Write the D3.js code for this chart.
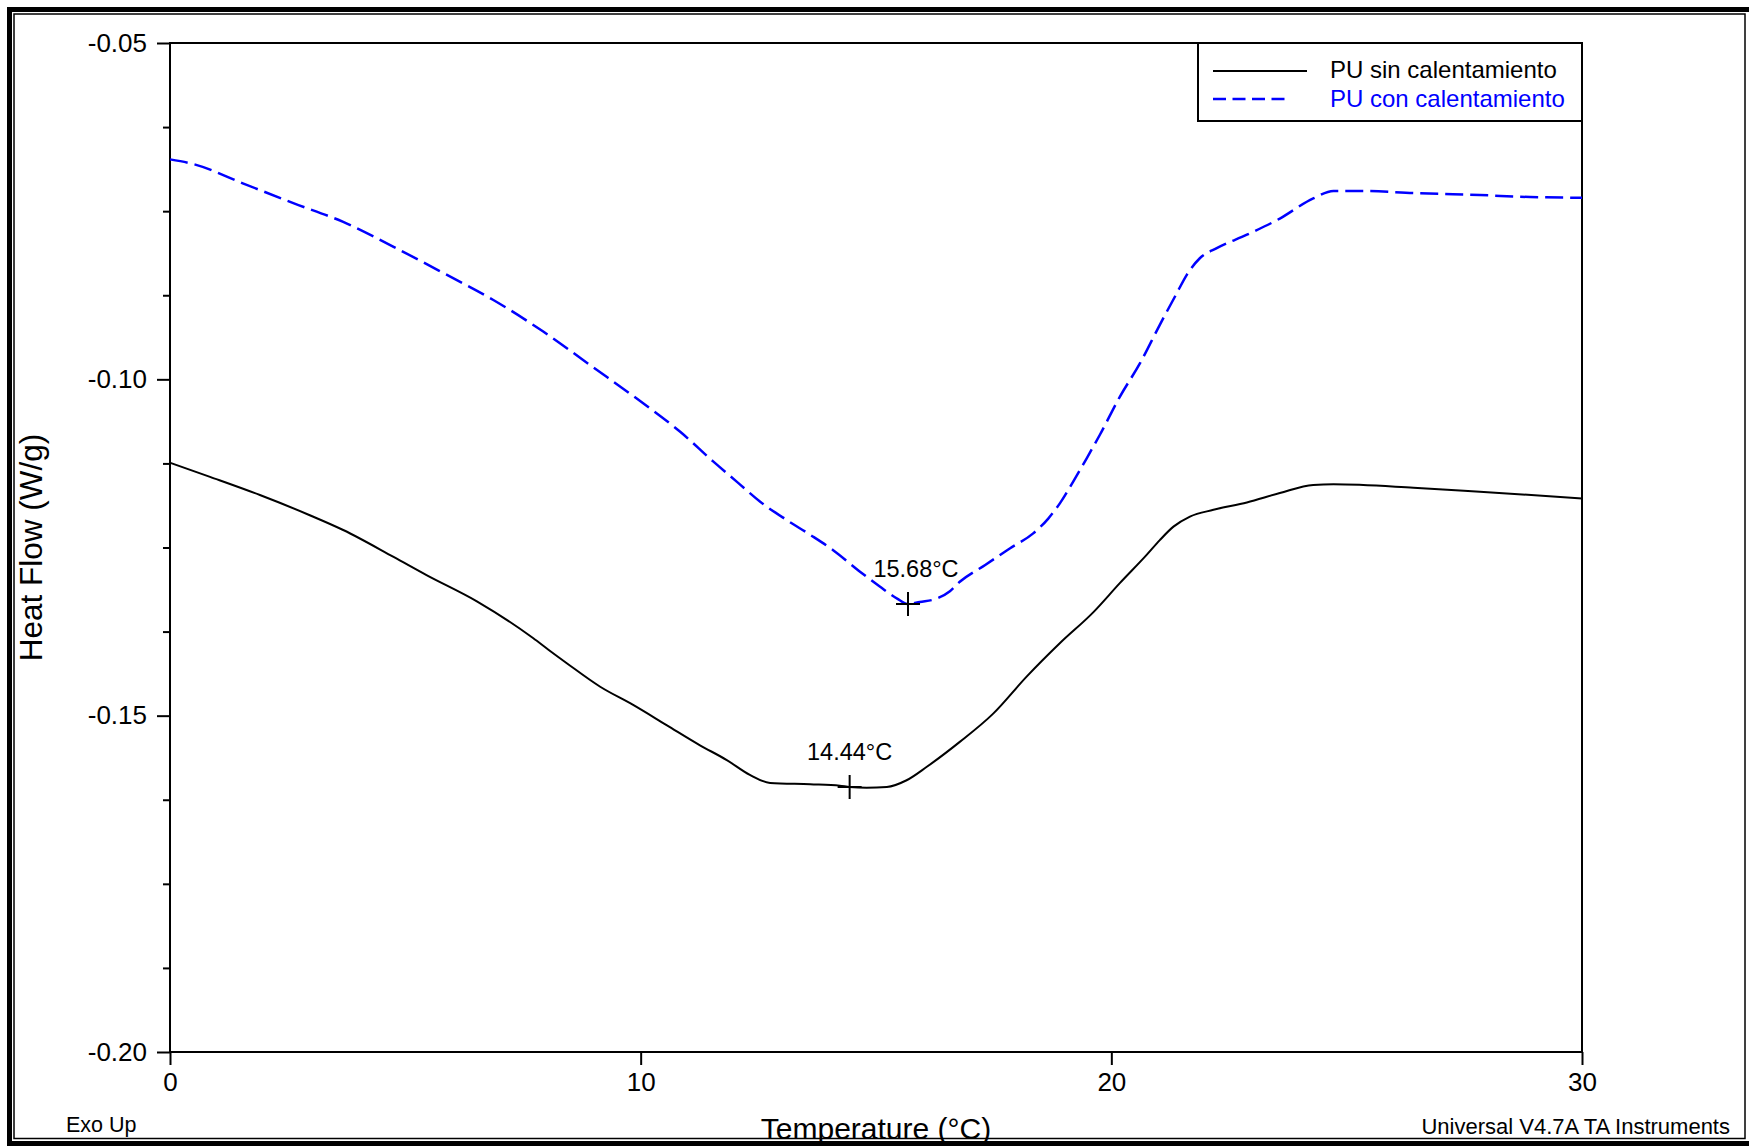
<!DOCTYPE html>
<html>
<head>
<meta charset="utf-8">
<script src="https://cdn.jsdelivr.net/npm/d3@7"></script>
<style>
  html, body { margin: 0; padding: 0; background: #fff; }
  svg { display: block; }
  text { font-family: "Liberation Sans", Arial, sans-serif; }
</style>
</head>
<body>
<svg id="chart" width="1749" height="1147"></svg>
<script>
// DSC thermograms: heat flow (W/g) vs temperature (°C)
const tempSin = [0, 0.85, 1.91, 2.97, 3.68, 4.75, 5.45, 6.52, 7.72, 8.04, 8.43, 9.14, 9.84, 10.55, 11.26, 11.83, 12.32, 12.75, 13.6, 14.23, 14.44, 14.8, 15.23, 15.65, 16.08, 16.78, 17.49, 18.2, 18.91, 19.62, 20.18, 20.75, 21.03, 21.32, 21.67, 22.17, 22.88, 23.58, 24.29, 24.72, 26.42, 27.83, 30];
const hfSin = [-0.1124, -0.1145, -0.1172, -0.1202, -0.1224, -0.1264, -0.1291, -0.1330, -0.1385, -0.1402, -0.1422, -0.1457, -0.1484, -0.1514, -0.1544, -0.1566, -0.1588, -0.1600, -0.1602, -0.1604, -0.1606, -0.1607, -0.1606, -0.1596, -0.1576, -0.1539, -0.1497, -0.1442, -0.1392, -0.1346, -0.1303, -0.1261, -0.1239, -0.1219, -0.1204, -0.1194, -0.1183, -0.1169, -0.1157, -0.1156, -0.1161, -0.1167, -0.1177];

const tempCon = [0, 0.50, 1.56, 2.62, 3.68, 4.75, 5.81, 6.87, 7.93, 8.99, 10.06, 10.84, 11.54, 12.04, 12.54, 13.1, 13.6, 14.09, 14.66, 15.08, 15.45, 15.68, 15.93, 16.29, 16.57, 16.78, 17.32, 17.85, 18.34, 18.66, 18.91, 19.19, 19.48, 19.76, 20.18, 20.61, 21.03, 21.39, 21.6, 21.88, 22.24, 22.88, 23.58, 24.29, 24.72, 25.35, 26.42, 27.83, 28.9, 30];
const hfCon = [-0.0673, -0.0680, -0.0709, -0.0738, -0.0766, -0.0803, -0.0842, -0.0882, -0.0929, -0.0982, -0.1036, -0.1078, -0.1122, -0.1152, -0.1182, -0.1209, -0.1231, -0.1254, -0.1286, -0.1308, -0.1326, -0.1334, -0.1331, -0.1326, -0.1315, -0.1301, -0.1276, -0.1251, -0.1229, -0.1207, -0.1184, -0.1152, -0.1117, -0.1082, -0.1026, -0.0976, -0.0919, -0.0872, -0.0845, -0.0820, -0.0805, -0.0785, -0.0761, -0.0731, -0.0720, -0.0720, -0.0723, -0.0726, -0.0729, -0.0730];

// peak temperatures marked on each curve
const peakTemps = [14.44, 15.68];
const peakLabels = ["14.44°C", "15.68°C"];

const seriesNames = ["PU sin calentamiento", "PU con calentamiento"];
const seriesColors = ["#000000", "#0000ff"];

const xTicks = [0, 10, 20, 30];
const yMajorTicks = [-0.05, -0.10, -0.15, -0.20];
const yMinorTicks = [-0.0625, -0.075, -0.0875, -0.1125, -0.125, -0.1375, -0.1625, -0.175, -0.1875];

const xTitle = "Temperature (°C)";
const yTitle = "Heat Flow (W/g)";
const cornerLeft = "Exo Up";
const cornerRight = "Universal V4.7A TA Instruments";

const svg = d3.select("#chart");
const W = 1749, H = 1147;
const plot = { left: 170, right: 1582, top: 43, bottom: 1052 };

const x = d3.scaleLinear().domain([0, 30]).range([plot.left, plot.right]);
const y = d3.scaleLinear().domain([-0.20, -0.05]).range([plot.bottom, plot.top]);

svg.append("rect").attr("width", W).attr("height", H).attr("fill", "#fff");

// page frame: heavy outer border plus thin inner rule
svg.append("rect").attr("x", 9.5).attr("y", 9.5).attr("width", 1742).attr("height", 1134)
  .attr("fill", "none").attr("stroke", "#000").attr("stroke-width", 5);
svg.append("rect").attr("x", 14).attr("y", 14).attr("width", 1731).attr("height", 1124.5)
  .attr("fill", "none").attr("stroke", "#000").attr("stroke-width", 1.5);

// axes
const yMinor = svg.append("g").attr("transform", `translate(${plot.left},0)`)
  .call(d3.axisLeft(y).tickValues(yMinorTicks).tickSize(7).tickSizeOuter(0).tickFormat(""));
const yMajor = svg.append("g").attr("transform", `translate(${plot.left},0)`)
  .call(d3.axisLeft(y).tickValues(yMajorTicks).tickSize(13).tickSizeOuter(0).tickPadding(10)
    .tickFormat(d => d.toFixed(2)));
const xAxis = svg.append("g").attr("transform", `translate(0,${plot.bottom})`)
  .call(d3.axisBottom(x).tickValues(xTicks).tickSize(13).tickSizeOuter(0).tickPadding(7.5)
    .tickFormat(d3.format("d")));

[yMinor, yMajor, xAxis].forEach(g => {
  g.select(".domain").remove();
  g.selectAll(".tick line").attr("stroke", "#000").attr("stroke-width", 2);
  g.selectAll("text").attr("fill", "#000").style("font-size", "26px")
    .style("font-family", "'Liberation Sans', Arial, sans-serif");
});

// plot frame
svg.append("rect")
  .attr("x", plot.left).attr("y", plot.top)
  .attr("width", plot.right - plot.left).attr("height", plot.bottom - plot.top)
  .attr("fill", "none").attr("stroke", "#000").attr("stroke-width", 2);

// curves
const line = d3.line().x(d => x(d[0])).y(d => y(d[1])).curve(d3.curveMonotoneX);
const sinData = d3.zip(tempSin, hfSin);
const conData = d3.zip(tempCon, hfCon);

svg.append("path").datum(sinData).attr("d", line)
  .attr("fill", "none").attr("stroke", seriesColors[0]).attr("stroke-width", 2);
svg.append("path").datum(conData).attr("d", line)
  .attr("fill", "none").attr("stroke", seriesColors[1]).attr("stroke-width", 2.5)
  .attr("stroke-dasharray", "18,7");

// peak markers, positioned on their curves
function valueAt(ts, vs, t) {
  const i = d3.bisectLeft(ts, t);
  if (ts[i] === t) return vs[i];
  const t0 = ts[i - 1], t1 = ts[i];
  return vs[i - 1] + (vs[i] - vs[i - 1]) * (t - t0) / (t1 - t0);
}
const peaks = [
  { t: peakTemps[0], v: valueAt(tempSin, hfSin, peakTemps[0]), label: peakLabels[0], dx: 0 },
  { t: peakTemps[1], v: valueAt(tempCon, hfCon, peakTemps[1]), label: peakLabels[1], dx: 8 }
];
const pk = svg.append("g").selectAll("g").data(peaks).join("g")
  .attr("transform", d => `translate(${x(d.t)},${y(d.v)})`);
pk.append("path").attr("d", "M-12,0H12M0,-12V12")
  .attr("stroke", "#000").attr("stroke-width", 2).attr("fill", "none");
pk.append("text").attr("x", d => d.dx).attr("y", -27)
  .attr("text-anchor", "middle").style("font-size", "23.5px").attr("fill", "#000")
  .text(d => d.label);

// legend
const lg = svg.append("g");
lg.append("rect").attr("x", 1198).attr("y", plot.top).attr("width", plot.right - 1198).attr("height", 78)
  .attr("fill", "#fff").attr("stroke", "#000").attr("stroke-width", 2);
lg.append("line").attr("x1", 1213).attr("x2", 1307).attr("y1", 71).attr("y2", 71)
  .attr("stroke", seriesColors[0]).attr("stroke-width", 2);
lg.append("line").attr("x1", 1213).attr("x2", 1287).attr("y1", 99).attr("y2", 99)
  .attr("stroke", seriesColors[1]).attr("stroke-width", 2.5).attr("stroke-dasharray", "13,6.5");
lg.append("text").attr("x", 1330).attr("y", 78).attr("fill", seriesColors[0])
  .style("font-size", "24px").text(seriesNames[0]);
lg.append("text").attr("x", 1330).attr("y", 107).attr("fill", seriesColors[1])
  .style("font-size", "24px").text(seriesNames[1]);

// axis titles
svg.append("text").attr("x", (plot.left + plot.right) / 2).attr("y", 1139)
  .attr("text-anchor", "middle").style("font-size", "30px").attr("fill", "#000").text(xTitle);
svg.append("text").attr("transform", `translate(42,${(plot.top + plot.bottom) / 2}) rotate(-90)`)
  .attr("text-anchor", "middle").style("font-size", "31.5px").attr("fill", "#000").text(yTitle);

// footer notes
svg.append("text").attr("x", 66).attr("y", 1132).style("font-size", "21.5px").attr("fill", "#000").text(cornerLeft);
svg.append("text").attr("x", 1730).attr("y", 1134).attr("text-anchor", "end")
  .style("font-size", "22px").attr("fill", "#000").text(cornerRight);
</script>
</body>
</html>
